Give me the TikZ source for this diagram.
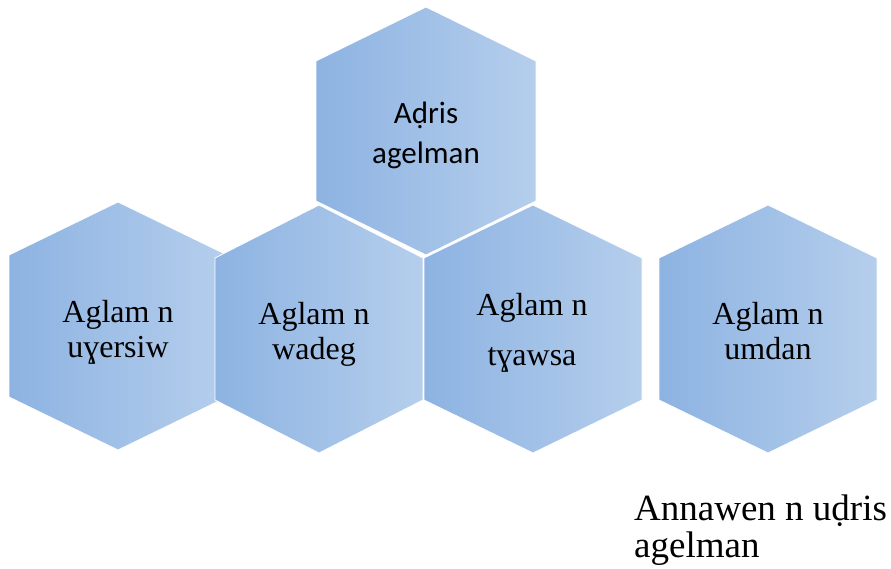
\documentclass[tikz,border=0pt]{standalone}
\usepackage{fontspec}
\setmainfont{Liberation Serif}
\newfontfamily\calib{Carlito}
\usepackage{tikz}
\definecolor{hexdark}{RGB}{141,179,226}
\definecolor{hexlight}{RGB}{181,206,236}
\newcommand{\hx}        {\fontsize{32}{35}\selectfont}
\newcommand{\hxtop}     {\calib\fontsize{31}{40}\selectfont}
\newcommand{\capt}      {\fontsize{37}{37}\selectfont}

\tikzset{hexcell/.style={draw=white,line width=0.8pt,left color=hexdark,right color=hexlight},
  hexlabel/.style={align=center,inner sep=0pt,font=\hx}}

\begin{document}
\begin{tikzpicture}[x=1pt,y=1pt]
  \useasboundingbox (0,0) rectangle (891,568);
  \begin{scope}[shift={(426,437)}]
   \draw[hexcell] (0,124) -- (110,70) -- (110,-70) -- (0,-124) -- (-110,-70) -- (-110,70) -- cycle;
   \node[hexlabel,font=\hxtop] (adris) at (0,-4) {A\d{d}ris\\agelman};
  \end{scope}
  \begin{scope}[shift={(118,242)}]
   \draw[hexcell] (0,124) -- (109,71) -- (109,-71) -- (0,-124) -- (-109,-71) -- (-109,71) -- cycle;
   \node[hexlabel] (uyersiw) at (0,-6) {Aglam n\\uɣersiw};
  \end{scope}
  \begin{scope}[shift={(319,239)}]
   \draw[hexcell] (0,124) -- (104,71) -- (104,-71) -- (0,-124) -- (-104,-71) -- (-104,71) -- cycle;
   \node[hexlabel] (wadeg) at (-5,-5) {Aglam n\\wadeg};
  \end{scope}
  \begin{scope}[shift={(533,239)}]
   \draw[hexcell] (0,124) -- (109,71) -- (109,-71) -- (0,-124) -- (-109,-71) -- (-109,71) -- cycle;
   \node[hexlabel] (tyawsa) at (-1,-3.5) {Aglam n\\[15pt]tɣawsa};
  \end{scope}
  \begin{scope}[shift={(768,239)}]
   \draw[hexcell] (0,124) -- (109,71) -- (109,-71) -- (0,-124) -- (-109,-71) -- (-109,71) -- cycle;
   \node[hexlabel] (umdan) at (0,-2) {Aglam n\\umdan};
  \end{scope}
  \node[align=left,inner sep=0pt,anchor=west,font=\capt] (annawen) at (634,38) {Annawen n u\d{d}ris\\agelman};
 \end{tikzpicture}
\end{document}
